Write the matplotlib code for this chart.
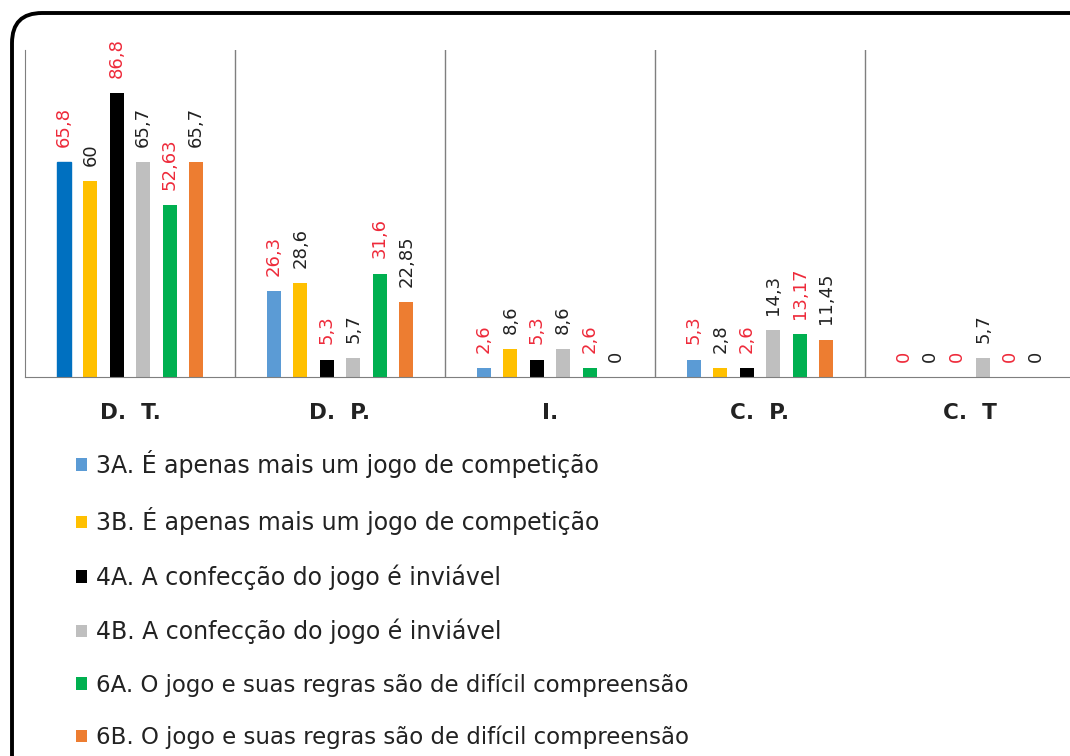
import matplotlib
matplotlib.use('Agg')
import numpy as np
from matplotlib import pyplot as plt
from matplotlib.patches import FancyBboxPatch
from matplotlib.transforms import IdentityTransform

# categories and series
categories = ['D.  T.', 'D.  P.', 'I.', 'C.  P.', 'C.  T']
series_names = ['3A. É apenas mais um jogo de competição',
                '3B. É apenas mais um jogo de competição',
                '4A. A confecção do jogo é inviável',
                '4B. A confecção do jogo é inviável',
                '6A. O jogo e suas regras são de difícil compreensão',
                '6B. O jogo e suas regras são de difícil compreensão']
v3a = [65.8, 26.3, 2.6, 5.3, 0]
v3b = [60, 28.6, 8.6, 2.8, 0]
v4a = [86.8, 5.3, 5.3, 2.6, 0]
v4b = [65.7, 5.7, 8.6, 14.3, 5.7]
v6a = [52.63, 31.6, 2.6, 13.17, 0]
v6b = [65.7, 22.85, 0, 11.45, 0]
labels_3a = ['65,8', '26,3', '2,6', '5,3', '0']
labels_3b = ['60', '28,6', '8,6', '2,8', '0']
labels_4a = ['86,8', '5,3', '5,3', '2,6', '0']
labels_4b = ['65,7', '5,7', '8,6', '14,3', '5,7']
labels_6a = ['52,63', '31,6', '2,6', '13,17', '0']
labels_6b = ['65,7', '22,85', '0', '11,45', '0']

values = [v3a, v3b, v4a, v4b, v6a, v6b]
texts = [labels_3a, labels_3b, labels_4a, labels_4b, labels_6a, labels_6b]
colors = ['#5B9BD5', '#FFC000', '#000000', '#BFBFBF', '#00B050', '#ED7D31']
label_colors = ['#EE2A3A', '#222222', '#EE2A3A', '#222222', '#EE2A3A', '#222222']

fig = plt.figure(figsize=(10.7, 7.56), dpi=100)
ax = fig.add_axes([25/1070, 379/756, 1050/1070, 327/756])

x = np.arange(len(categories))
step = 0.126
width = 0.067
bars = []
for j, vals in enumerate(values):
    b = ax.bar(x + (j - 2.5)*step, vals, width, color=colors[j], label=series_names[j])
    bars.append(b)
    for rect, t in zip(b, texts[j]):
        ax.annotate(t, (rect.get_x() + rect.get_width()/2, rect.get_height()),
                    xytext=(0, 11), textcoords='offset points', rotation=90,
                    ha='center', va='bottom', fontsize=13,
                    family='DejaVu Sans', color=label_colors[j])

ax.set_xlim(-0.5, len(categories) - 0.5)
ax.set_ylim(0, 100)
for s in [0.5, 1.5, 2.5, 3.5]:
    ax.axvline(s, color='#7F7F7F', lw=1)
for side in ['top', 'right']:
    ax.spines[side].set_visible(False)
ax.spines['left'].set_color('#7F7F7F')
ax.spines['bottom'].set_color('#7F7F7F')
ax.set_yticks([])
ax.set_xticks(x)
ax.set_xticklabels(categories, fontsize=15.5, fontweight='bold', family='DejaVu Sans', color='#222222')
ax.tick_params(axis='x', length=0, pad=19)

leg = fig.legend(handles=bars, loc='upper left', bbox_to_anchor=(55/1070, 1 - 429/756),
                 frameon=False, handlelength=0.45, handleheight=0.45, handletextpad=0.4,
                 labelspacing=1.23, prop={'family': 'DejaVu Sans', 'size': 17})
for i, t in enumerate(leg.get_texts()):
    t.set_color('#222222')
    if i >= 4:
        t.set_fontsize(16.5)

# first group's 3A bar is a darker blue in the original (legend keeps the light one)
bars[0][0].set_color('#0070C0')

# rounded frame around the whole figure
frame = FancyBboxPatch((12, -40), 1100, 783, boxstyle='round,pad=0,rounding_size=30',
                       transform=IdentityTransform(), fill=False, ec='black', lw=2.8)
fig.patches.append(frame)

fig.savefig('out.png', dpi=100)
